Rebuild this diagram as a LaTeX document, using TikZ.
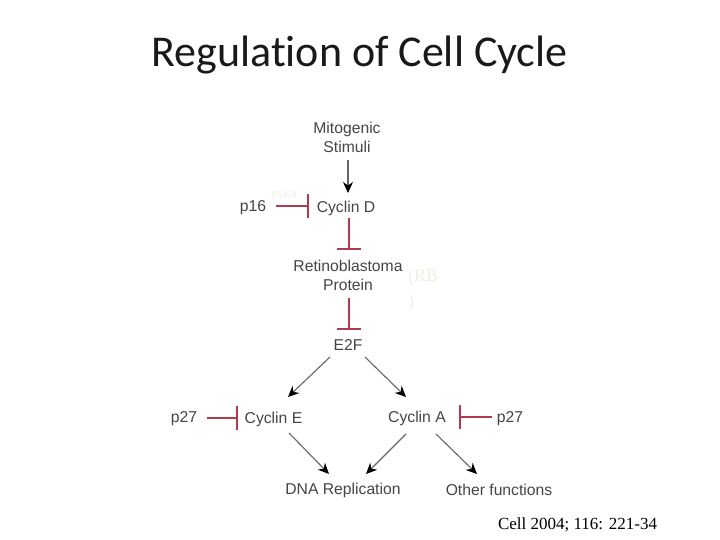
\documentclass[tikz,border=0pt]{standalone}
\usepackage{fontspec}
\setmainfont{Liberation Sans}
\newfontfamily\titlefont[Ligatures=NoCommon]{Carlito}
\newfontfamily\seriffont{Liberation Serif}
\usetikzlibrary{arrows.meta}
\definecolor{inhib}{HTML}{B23A4C}
\definecolor{lab}{HTML}{454545}
\definecolor{faint}{HTML}{EFEFE2}
\tikzset{
 lbl/.style={font=\fontsize{15.7}{19}\selectfont,text=lab,inner sep=0pt,align=center},
 ghost/.style={font=\seriffont\fontsize{18}{26}\selectfont,text=faint,inner sep=0pt,anchor=west,align=left},
 act/.style={draw=black!60,line width=1.1pt,-{Stealth[length=11pt,width=10pt,color=black]}},
 inh/.style={draw=inhib,line width=2pt,-{Bar[width=24pt,line width=2pt]}},
}
\begin{document}
\begin{tikzpicture}[x=1pt,y=-1pt]
\useasboundingbox (0,0) rectangle (720,540);
\fill[white] (0,0) rectangle (720,540);
\node[inner sep=0pt,font=\titlefont\fontsize{44}{50}\selectfont,text=black!90] (title) at (359.5,55) {Regulation of Cell Cycle};
\node[lbl] (mito) at (347,137.5) {Mitogenic\\Stimuli};
\node[lbl] (cycd) at (346,208) {Cyclin D};
\node[lbl] (p16) at (253,208) {p16};
\node[lbl] (rb) at (348,275.5) {Retinoblastoma\\Protein};
\node[lbl] (e2f) at (348,345) {E2F};
\node[lbl] (cyce) at (273.5,419) {Cyclin E};
\node[lbl] (p27a) at (184,419) {p27};
\node[lbl] (cyca) at (417,418) {Cyclin A};
\node[lbl] (p27b) at (510,419) {p27};
\node[lbl] (dna) at (343,490) {DNA Replication};
\node[lbl] (other) at (499,490) {Other functions};
\node[font=\seriffont\fontsize{11}{13}\selectfont,text=faint,inner sep=0pt] (ink) at (284,195) {INK4};
\node[ghost] (rbtag) at (408,290) {(RB\\)};
\node[font=\seriffont\fontsize{17}{20}\selectfont,inner sep=0pt] (cite) at (577.5,525) {Cell 2004; 116: 221-34};
% activating arrows
\draw[act] ([xshift=1pt,yshift=-22.5pt]mito.center) -- ([xshift=2pt,yshift=15pt]cycd.center);
\draw[act] ([xshift=-18pt,yshift=-12pt]e2f.center) -- ([xshift=14.5pt,yshift=22pt]cyce.center);
\draw[act] ([xshift=17pt,yshift=-12pt]e2f.center) -- ([xshift=-11pt,yshift=21pt]cyca.center);
\draw[act] ([xshift=15.5pt,yshift=-14pt]cyce.center) -- ([xshift=-14pt,yshift=16pt]dna.center);
\draw[act] ([xshift=-11pt,yshift=-16pt]cyca.center) -- ([xshift=23pt,yshift=16pt]dna.center);
\draw[act] ([xshift=19pt,yshift=-16pt]cyca.center) -- ([xshift=-22pt,yshift=16pt]other.center);
% inhibiting connectors
\draw[inh] ([xshift=23pt,yshift=1.5pt]p16.center) -- ([xshift=-37pt,yshift=1.5pt]cycd.center);
\draw[inh] ([xshift=3pt,yshift=-10pt]cycd.center) -- ([xshift=1pt,yshift=25.5pt]rb.center);
\draw[inh] ([xshift=1pt,yshift=-22.5pt]rb.center) -- ([xshift=1pt,yshift=15pt]e2f.center);
\draw[inh] ([xshift=23pt,yshift=1pt]p27a.center) -- ([xshift=-35.5pt,yshift=1pt]cyce.center);
\draw[inh] ([xshift=-18pt,yshift=2pt]p27b.center) -- ([xshift=42pt,yshift=1pt]cyca.center);
\end{tikzpicture}
\end{document}
